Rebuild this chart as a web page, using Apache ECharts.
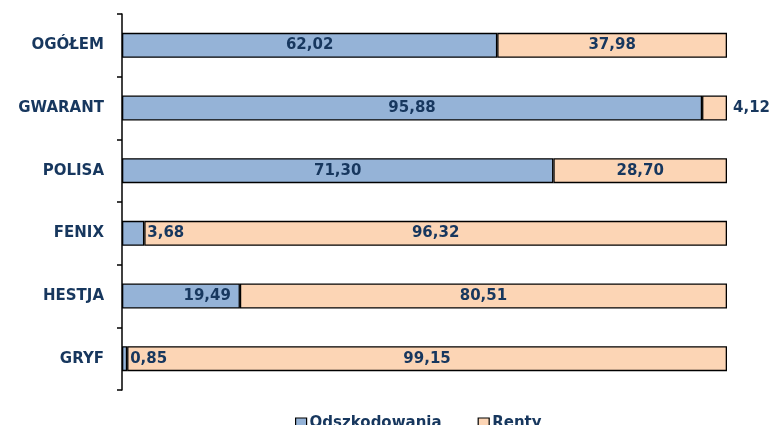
<!DOCTYPE html>
<html>
<head>
<meta charset="utf-8">
<script src="https://cdn.jsdelivr.net/npm/echarts@6/dist/echarts.min.js"></script>
<style>html,body{margin:0;padding:0;background:#fff;}#c{width:771px;height:425px;}</style>
</head>
<body>
<div id="c"></div>
<script>
const categories = ['OGÓŁEM', 'GWARANT', 'POLISA', 'FENIX', 'HESTJA', 'GRYF'];
const odszkodowania = [62.02, 95.88, 71.30, 3.68, 19.49, 0.85];
const renty = [37.98, 4.12, 28.70, 96.32, 80.51, 99.15];
const seriesNames = ['Odszkodowania', 'Renty'];

const NAVY = '#17375E';
const FONT = 'DejaVu Sans';
const fmt = p => p.value.toFixed(2).replace('.', ',');

const blueLabelPos = { 'FENIX': ['right', 3], 'GRYF': ['right', 3], 'HESTJA': ['insideRight', 9] };
const peachLabelPos = { 'GWARANT': ['right', 6] };

function build(vals, posMap) {
  return vals.map((v, i) => {
    const p = posMap[categories[i]];
    const item = { value: v };
    if (p) item.label = { position: p[0], distance: p[1] };
    return item;
  });
}

const labelStyle = { show: true, position: 'inside', formatter: fmt, color: NAVY, fontFamily: FONT, fontWeight: 'bold', fontSize: 15 };

const chart = echarts.init(document.getElementById('c'), null, { renderer: 'canvas' });
chart.setOption({
  animation: false,
  backgroundColor: '#fff',
  grid: { left: 122, right: 44, top: 14, bottom: 35, containLabel: false },
  xAxis: { type: 'value', min: 0, max: 100, show: false, splitLine: { show: false } },
  yAxis: {
    type: 'category', data: categories, inverse: true,
    axisLine: { show: true, lineStyle: { color: '#000', width: 1.5 } },
    axisTick: { show: true, length: 5, lineStyle: { color: '#000', width: 1.5 } },
    axisLabel: { margin: 18, color: NAVY, fontFamily: FONT, fontWeight: 'bold', fontSize: 15 }
  },
  legend: {
    left: 290, top: 411, itemGap: 36, itemWidth: 11, itemHeight: 11, icon: 'rect',
    textStyle: { color: NAVY, fontFamily: FONT, fontWeight: 'bold', fontSize: 15, padding: [0, 0, 0, -2] },
    itemStyle: { borderColor: '#000', borderWidth: 1.2 },
    data: seriesNames
  },
  series: [
    { name: seriesNames[0], type: 'bar', stack: 't', barWidth: 25, data: build(odszkodowania, blueLabelPos),
      itemStyle: { color: '#95B3D7', borderColor: '#000', borderWidth: 1.3 }, label: labelStyle },
    { name: seriesNames[1], type: 'bar', stack: 't', barWidth: 25, data: build(renty, peachLabelPos),
      itemStyle: { color: '#FCD5B5', borderColor: '#000', borderWidth: 1.3 }, label: labelStyle }
  ]
});
</script>
</body>
</html>
